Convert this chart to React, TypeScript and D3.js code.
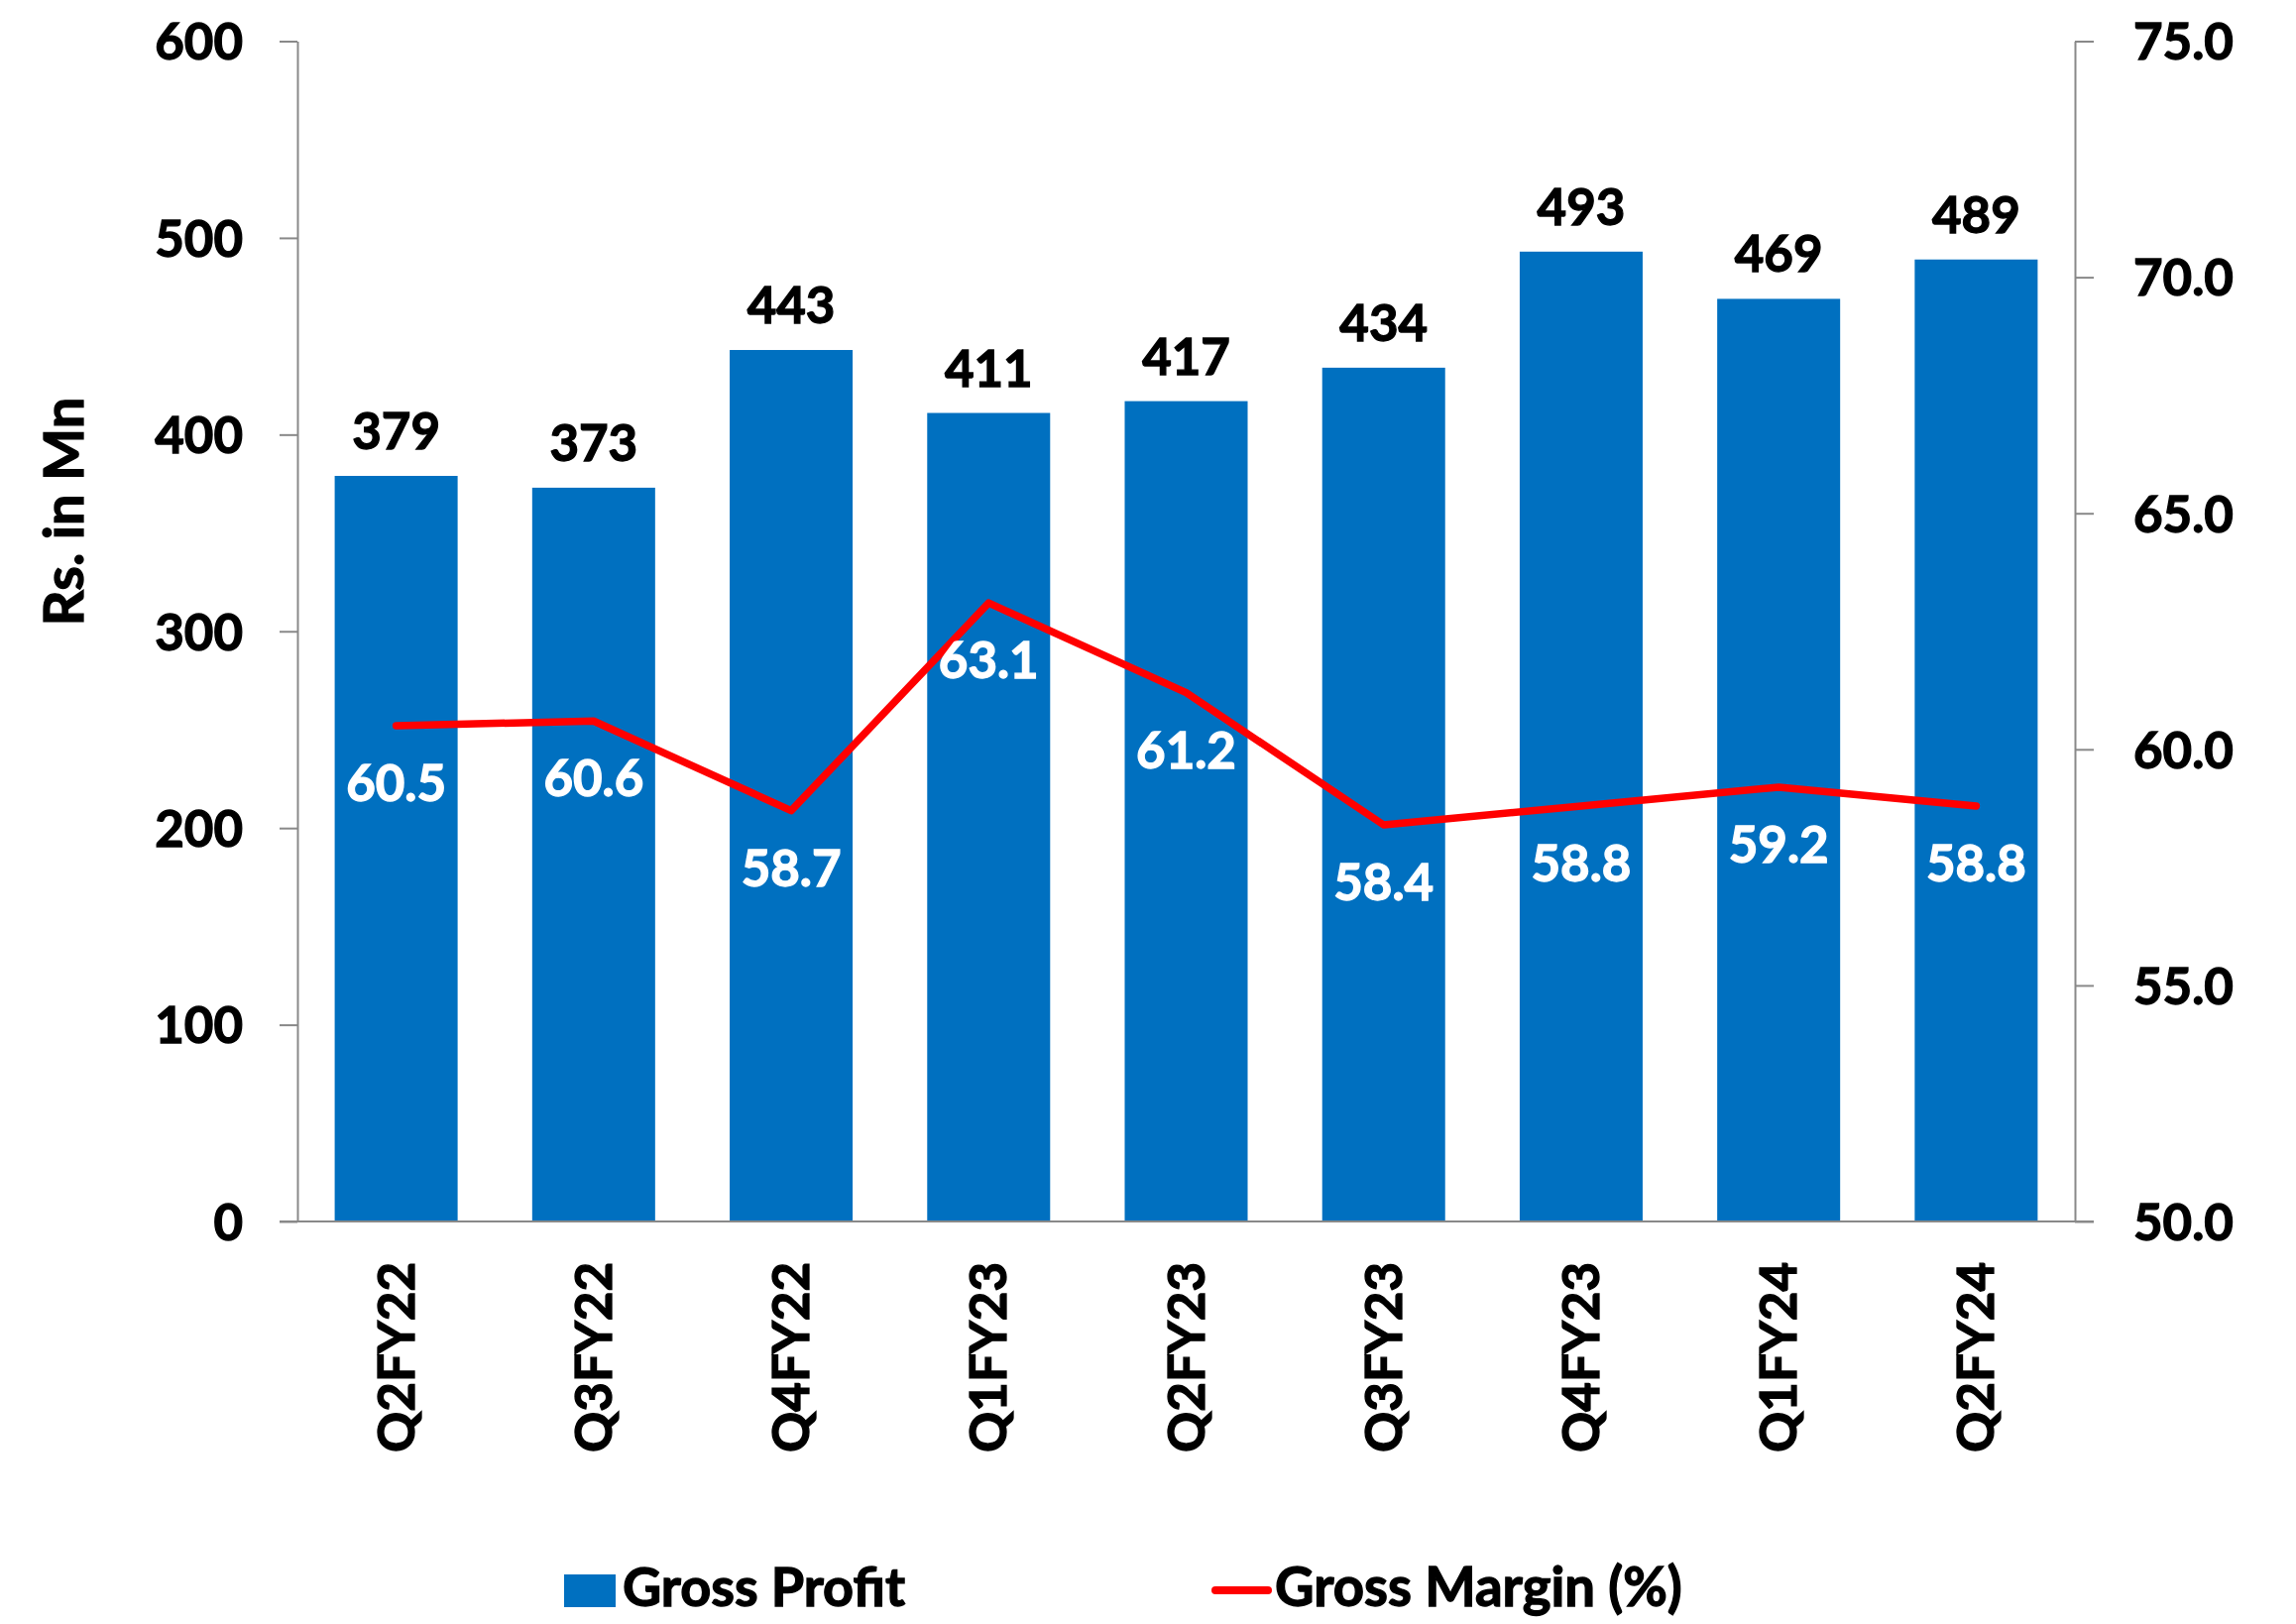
import React, { useEffect, useRef } from 'react';
import * as d3 from 'd3';

const quarters = ['Q2FY22', 'Q3FY22', 'Q4FY22', 'Q1FY23', 'Q2FY23', 'Q3FY23', 'Q4FY23', 'Q1FY24', 'Q2FY24'];
const grossProfit = [379, 373, 443, 411, 417, 434, 493, 469, 489];
const grossMargin = [60.5, 60.6, 58.7, 63.1, 61.2, 58.4, 58.8, 59.2, 58.8];
const leftTicks = [0, 100, 200, 300, 400, 500, 600];
const rightTicks = [50, 55, 60, 65, 70, 75];

const WIDTH = 2316;
const HEIGHT = 1638;
const FONT = 'Lato, "Open Sans", sans-serif';
const BLUE = '#0070C0';
const RED = '#FF0000';
const AXIS = '#898989';
const THICK = 1.3; // small outline so Lato bold reads as heavy as the original

const App: React.FC = () => {
  const svgRef = useRef<SVGSVGElement>(null);

  useEffect(() => {
    if (!svgRef.current) return;
    const svg = d3.select(svgRef.current);
    svg.selectAll('*').remove();

    const left = 300;
    const right = 2093;
    const top = 41.5;
    const bottom = 1232;

    const x = d3.scaleBand<string>()
      .domain(quarters)
      .range([left, right])
      .paddingInner(0.3775)
      .paddingOuter(0.3775 / 2);
    const yL = d3.scaleLinear().domain([0, 600]).range([bottom, top]);
    const yR = d3.scaleLinear().domain([50, 75]).range([bottom, top]);
    const cx = (i: number) => x(quarters[i])! + x.bandwidth() / 2;

    const g = svg.append('g')
      .style('font-family', FONT)
      .style('font-weight', 700);

    // bars
    g.selectAll('.bar')
      .data(grossProfit)
      .enter().append('rect')
      .attr('x', (_d, i) => x(quarters[i])!)
      .attr('width', x.bandwidth())
      .attr('y', d => yL(d))
      .attr('height', d => bottom - yL(d))
      .attr('fill', BLUE);

    // axes
    const leftAxis = g.append('g')
      .attr('transform', `translate(${left},0)`)
      .call(d3.axisLeft(yL).tickValues(leftTicks).tickSize(18).tickPadding(37).tickSizeOuter(0));
    const rightAxis = g.append('g')
      .attr('transform', `translate(${right},0)`)
      .call(d3.axisRight(yR).tickValues(rightTicks).tickFormat(d3.format('.1f')).tickSize(19).tickPadding(40).tickSizeOuter(0));
    [leftAxis, rightAxis].forEach(ax => {
      ax.select('.domain').attr('stroke', AXIS).attr('stroke-width', 2);
      ax.selectAll('.tick line').attr('stroke', AXIS).attr('stroke-width', 2);
      ax.selectAll('.tick text')
        .attr('fill', '#000')
        .attr('stroke', '#000')
        .attr('stroke-width', THICK)
        .style('font-size', '51px')
        .style('font-family', FONT)
        .style('font-weight', 700)
        .attr('dy', '0.36em');
    });

    // x axis line
    g.append('line')
      .attr('x1', left - 18)
      .attr('x2', right + 19)
      .attr('y1', bottom)
      .attr('y2', bottom)
      .attr('stroke', AXIS)
      .attr('stroke-width', 2);

    // category labels
    g.selectAll('.cat')
      .data(quarters)
      .enter().append('text')
      .attr('transform', (_d, i) => `translate(${cx(i) + 18},1273) rotate(-90)`)
      .attr('text-anchor', 'end')
      .attr('stroke', '#000')
      .attr('stroke-width', THICK)
      .style('font-size', '51px')
      .text(d => d);

    // y title
    g.append('text')
      .attr('transform', 'translate(84,516) rotate(-90)')
      .attr('text-anchor', 'middle')
      .attr('stroke', '#000')
      .attr('stroke-width', THICK)
      .style('font-size', '56px')
      .text('Rs. in Mn');

    // bar value labels
    g.selectAll('.val')
      .data(grossProfit)
      .enter().append('text')
      .attr('x', (_d, i) => cx(i))
      .attr('y', d => yL(d) - 27)
      .attr('text-anchor', 'middle')
      .attr('stroke', '#000')
      .attr('stroke-width', THICK)
      .style('font-size', '51px')
      .text(d => d);

    // margin line
    const line = d3.line<number>()
      .x((_d, i) => cx(i))
      .y(d => yR(d));
    g.append('path')
      .datum(grossMargin)
      .attr('d', line)
      .attr('fill', 'none')
      .attr('stroke', RED)
      .attr('stroke-width', 7.5)
      .attr('stroke-linecap', 'round')
      .attr('stroke-linejoin', 'round');

    g.selectAll('.mval')
      .data(grossMargin)
      .enter().append('text')
      .attr('x', (_d, i) => cx(i))
      .attr('y', d => yR(d) + 76)
      .attr('text-anchor', 'middle')
      .attr('fill', '#fff')
      .attr('stroke', '#fff')
      .attr('stroke-width', THICK)
      .style('font-size', '51px')
      .text(d => d.toFixed(1));

    // legend
    const lg = g.append('g');
    lg.append('rect')
      .attr('x', 569).attr('y', 1588).attr('width', 52).attr('height', 33)
      .attr('fill', BLUE);
    lg.append('text')
      .attr('x', 628).attr('y', 1620)
      .attr('stroke', '#000')
      .attr('stroke-width', THICK)
      .style('font-size', '54px')
      .text('Gross Profit');
    lg.append('line')
      .attr('x1', 1226).attr('x2', 1279).attr('y1', 1604).attr('y2', 1604)
      .attr('stroke', RED).attr('stroke-width', 8).attr('stroke-linecap', 'round');
    lg.append('text')
      .attr('x', 1286).attr('y', 1620)
      .attr('stroke', '#000')
      .attr('stroke-width', THICK)
      .style('font-size', '54.5px')
      .text('Gross Margin (%)');
  }, []);

  return (
    <div style={{ position: 'absolute', left: 0, top: 0 }}>
      <svg ref={svgRef} width={WIDTH} height={HEIGHT} style={{ display: 'block', background: '#fff' }} />
    </div>
  );
};

export default App;
